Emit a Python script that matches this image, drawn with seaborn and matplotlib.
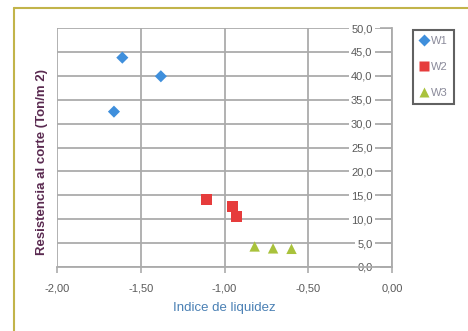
import matplotlib
matplotlib.use("Agg")
import matplotlib.pyplot as plt
from matplotlib.lines import Line2D
from matplotlib.ticker import FuncFormatter
import pandas as pd
import seaborn as sns

# Liquidity index vs. shear strength, grouped by sample
w1_x = [-1.61, -1.38, -1.66]
w1_y = [43.8, 39.9, 32.5]
w2_x = [-1.11, -0.95, -0.93]
w2_y = [14.2, 12.6, 10.5]
w3_x = [-0.82, -0.71, -0.60]
w3_y = [4.3, 3.9, 3.8]
series = ["W1", "W2", "W3"]
x_ticks = [-2.0, -1.5, -1.0, -0.5, 0.0]
y_ticks = [0, 5, 10, 15, 20, 25, 30, 35, 40, 45, 50]

df = pd.DataFrame({
    "x": w1_x + w2_x + w3_x,
    "y": w1_y + w2_y + w3_y,
    "serie": [series[0]] * 3 + [series[1]] * 3 + [series[2]] * 3,
})

colors = {"W1": "#3f8fdc", "W2": "#e63c3c", "W3": "#a9c23c"}
markers = {"W1": "D", "W2": "s", "W3": "^"}
sizes = {"W1": 38, "W2": 64, "W3": 56}

sns.set_style("white")
plt.rcParams["font.family"] = ["Liberation Sans", "DejaVu Sans"]

fig = plt.figure(figsize=(4.68, 3.31), dpi=100)
fig.patch.set_facecolor("white")
ax = fig.add_axes([57 / 468, 1 - 267 / 331, 335 / 468, 239 / 331])

grid_c = "#ababab"
for s in series:
    sub = df[df["serie"] == s]
    sns.scatterplot(data=sub, x="x", y="y", color=colors[s], marker=markers[s],
                    s=sizes[s], edgecolor="none", ax=ax, zorder=3, legend=False)

ax.set_xlim(-2.0, 0.0)
ax.set_ylim(0, 50)
ax.set_xticks(x_ticks)
ax.set_yticks(y_ticks)
ax.grid(True, color=grid_c, linewidth=1.3)
ax.set_axisbelow(True)

# y axis crosses at x = 0
ax.spines["left"].set_position(("data", 0))
ax.spines["left"].set_color(grid_c)
ax.spines["left"].set_linewidth(1.3)
ax.spines["bottom"].set_color(grid_c)
ax.spines["bottom"].set_linewidth(1.3)
ax.spines["right"].set_visible(False)
ax.spines["top"].set_visible(False)

ax.xaxis.set_major_formatter(FuncFormatter(lambda v, p: f"{v:.2f}".replace(".", ",")))
ax.yaxis.set_major_formatter(FuncFormatter(lambda v, p: f"{v:.1f}".replace(".", ",")))
ax.tick_params(axis="y", direction="out", length=9, width=1.2, color=grid_c,
               labelsize=8, labelcolor="#5a5a5a", pad=5, left=True)
ax.tick_params(axis="x", direction="out", length=4, width=1.2, color=grid_c,
               labelsize=8, labelcolor="#5a5a5a", pad=8, bottom=True)
for lab in ax.get_yticklabels():
    lab.set_bbox(dict(facecolor="white", edgecolor="none", pad=1.5))

ax.set_xlabel("Indice de liquidez", fontsize=9.5, color="#4a80b4", labelpad=6)
ax.set_ylabel("")
fig.text(42 / 468, 1 - 162 / 331, "Resistencia al corte (Ton/m 2)", rotation=90,
         ha="center", va="center", fontsize=9.5, color="#5a2a50", fontweight="bold")

handles = [Line2D([0], [0], marker=markers[s], color="none", markerfacecolor=colors[s],
                  markeredgecolor="none", markersize=(6 if s == "W1" else 7.5))
           for s in series]
leg = fig.legend(handles, series, loc="upper left",
                 bbox_to_anchor=(413 / 468, 1 - 30 / 331), frameon=True,
                 fontsize=8, labelcolor="#8a8a9a", labelspacing=1.45,
                 handlelength=0.8, handletextpad=0.3, borderpad=0.55,
                 borderaxespad=0, fancybox=False)
leg.get_frame().set_edgecolor("#3a3a3a")
leg.get_frame().set_linewidth(1.5)

# outer frame lines along the top and left edges
fig.add_artist(Line2D([14 / 468, 14 / 468], [0, 1 - 8 / 331], transform=fig.transFigure,
                      color="#c2b44a", linewidth=1.5))
fig.add_artist(Line2D([14 / 468, 1], [1 - 8 / 331, 1 - 8 / 331], transform=fig.transFigure,
                      color="#c2b44a", linewidth=1.5))

fig.savefig("out.png", dpi=100, facecolor="white")
